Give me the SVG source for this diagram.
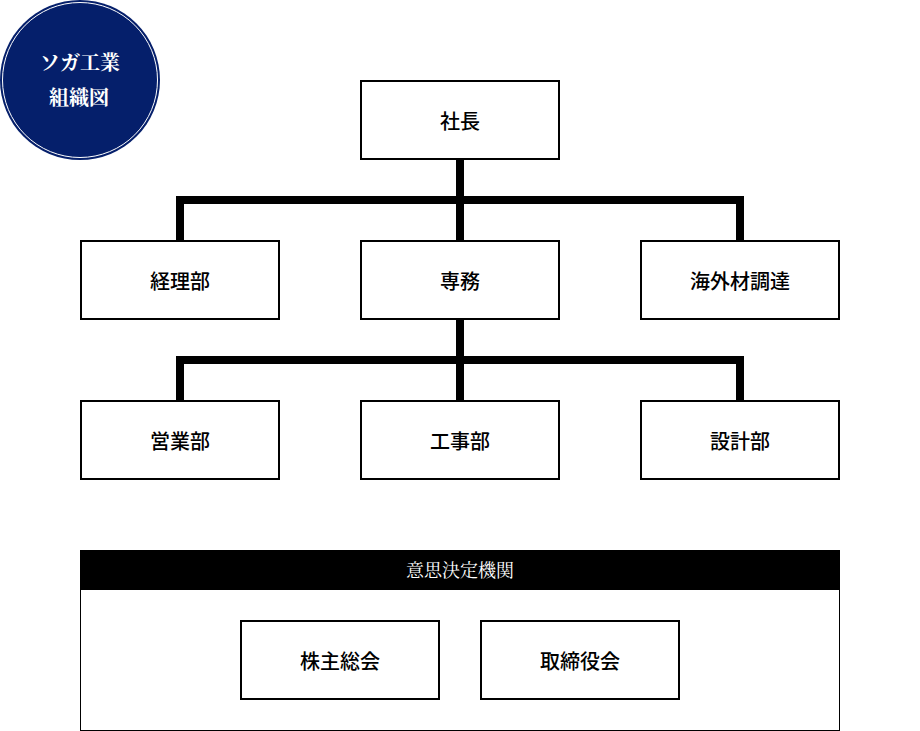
<svg xmlns="http://www.w3.org/2000/svg" width="920" height="731" viewBox="0 0 920 731">
<style>
.b{fill:#fff;stroke:#000;stroke-width:2}
.t{font-family:"Noto Sans CJK JP","Noto Sans",sans-serif;font-size:20px;font-weight:500;text-anchor:middle;fill:#000}
.c{fill:none;stroke:#000;stroke-width:8}
.s{font-family:"Noto Serif CJK JP","Liberation Serif","Noto Sans CJK JP",serif;text-anchor:middle;fill:#fff}
</style>
<rect width="920" height="731" fill="#fff"/>
<g id="badge">
<circle cx="80" cy="80" r="80" fill="#051f6b"/>
<circle cx="80" cy="80" r="77.5" fill="none" stroke="#fff" stroke-width="1"/>
<text class="s" x="80" y="70" font-size="20" font-weight="700">ソガ工業</text>
<text class="s" x="79" y="105" font-size="20" font-weight="700">組織図</text>
</g>
<g id="connectors">
<path class="c" d="M460 159V240M180 240V200H740V240"/>
<path class="c" d="M460 319V400M180 400V360H740V400"/>
</g>
<g id="president"><rect class="b" x="361" y="81" width="198" height="78"/><text class="t" x="460" y="129">社長</text></g>
<g id="accounting"><rect class="b" x="81" y="241" width="198" height="78"/><text class="t" x="180" y="289">経理部</text></g>
<g id="senior-director"><rect class="b" x="361" y="241" width="198" height="78"/><text class="t" x="460" y="289">専務</text></g>
<g id="overseas"><rect class="b" x="641" y="241" width="198" height="78"/><text class="t" x="740" y="289">海外材調達</text></g>
<g id="sales"><rect class="b" x="81" y="401" width="198" height="78"/><text class="t" x="180" y="449">営業部</text></g>
<g id="construction"><rect class="b" x="361" y="401" width="198" height="78"/><text class="t" x="460" y="449">工事部</text></g>
<g id="design"><rect class="b" x="641" y="401" width="198" height="78"/><text class="t" x="740" y="449">設計部</text></g>
<g id="decision-body">
<rect x="80.5" y="550.5" width="759" height="180" fill="#fff" stroke="#000" stroke-width="1"/>
<rect x="80" y="550" width="760" height="40" fill="#000"/>
<text class="s" x="460" y="577" font-size="18">意思決定機関</text>
</g>
<g id="shareholders"><rect class="b" x="241" y="621" width="198" height="78"/><text class="t" x="340" y="669">株主総会</text></g>
<g id="board"><rect class="b" x="481" y="621" width="198" height="78"/><text class="t" x="580" y="669">取締役会</text></g>
</svg>
